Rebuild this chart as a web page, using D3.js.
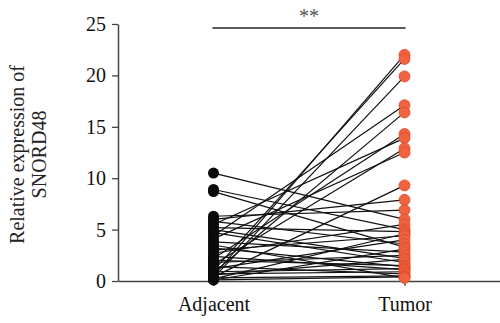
<!DOCTYPE html>
<html>
<head>
<meta charset="utf-8">
<script src="https://cdn.jsdelivr.net/npm/d3@7"></script>
<style>
  body { margin: 0; background: #fff; }
  svg text { font-family: "Liberation Serif", "DejaVu Serif", serif; }
</style>
</head>
<body>
<div id="chart"></div>
<script>
// paired samples, same index = same patient
const groups = ["Adjacent", "Tumor"];
const adjacent = [0.5, 1.0, 0.3, 4.4, 0.8, 2.2, 5.5, 1.6, 4.1, 0.4, 6.0, 6.3, 10.5, 2.7, 8.9, 5.2, 0.2, 3.0,
  1.2, 5.8, 8.7, 0.1, 3.8, 1.8, 5.0, 0.6, 4.7, 2.0, 3.2, 0.9, 2.4, 0.7, 1.4, 0.3, 0.1, 3.5];
const tumor = [22.0, 21.6, 19.9, 17.1, 16.4, 14.3, 13.9, 12.9, 12.5, 9.3, 7.9, 6.9, 6.0, 5.5, 5.0, 4.8, 4.6, 4.4,
  4.0, 3.6, 3.3, 3.1, 2.8, 2.5, 2.2, 2.1, 1.8, 1.5, 1.4, 1.2, 1.1, 0.9, 0.7, 0.5, 0.4, 0.3];
const yTicks = [0, 5, 10, 15, 20, 25];
const sigLabel = "**";

const width = 500, height = 323;
const margin = { top: 24, right: 0, bottom: 42, left: 118 };
const fontSize = "20px";

const svg = d3.select("#chart")
  .append("svg")
  .attr("width", width)
  .attr("height", height);

const x = d3.scalePoint()
  .domain(groups)
  .range([margin.left, width - margin.right])
  .padding(0.5);

const y = d3.scaleLinear()
  .domain([0, 25])
  .range([height - margin.bottom, margin.top]);

const axisColor = "#444";

// y axis
const yAxis = svg.append("g")
  .attr("transform", `translate(${margin.left},0)`)
  .call(d3.axisLeft(y).tickValues(yTicks).tickSize(6).tickSizeOuter(0).tickPadding(6));
yAxis.selectAll("text").style("font-size", fontSize).attr("fill", "#111");

// x axis
const xAxis = svg.append("g")
  .attr("transform", `translate(0,${y(0)})`)
  .call(d3.axisBottom(x).tickSize(5).tickSizeOuter(0).tickPadding(11));
xAxis.selectAll("text").style("font-size", fontSize).attr("fill", "#111");

[yAxis, xAxis].forEach(g => {
  g.select(".domain").attr("stroke", axisColor).attr("stroke-width", 1.5);
  g.selectAll(".tick line").attr("stroke", axisColor).attr("stroke-width", 1.3);
});

// y title
svg.append("text")
  .attr("transform", `translate(24,${(y(0) + y(25)) / 2 + 2}) rotate(-90)`)
  .attr("text-anchor", "middle")
  .style("font-size", fontSize)
  .attr("fill", "#222")
  .selectAll("tspan")
  .data(["Relative expression of", "SNORD48"])
  .join("tspan")
  .attr("x", 0)
  .attr("dy", (d, i) => i === 0 ? 0 : "1.1em")
  .text(d => d);

// connecting lines
const pairs = adjacent.map((a, i) => ({ a, t: tumor[i] }));
svg.append("g")
  .selectAll("line")
  .data(pairs)
  .join("line")
  .attr("x1", x("Adjacent"))
  .attr("y1", d => y(d.a))
  .attr("x2", x("Tumor"))
  .attr("y2", d => y(d.t))
  .attr("stroke", "#111")
  .attr("stroke-width", 1.2);

// points
svg.append("g")
  .selectAll("circle")
  .data(adjacent)
  .join("circle")
  .attr("cx", x("Adjacent"))
  .attr("cy", d => y(d))
  .attr("r", 5.5)
  .attr("fill", "#0a0a0a");

svg.append("g")
  .selectAll("circle")
  .data(tumor)
  .join("circle")
  .attr("cx", x("Tumor"))
  .attr("cy", d => y(d))
  .attr("r", 5.5)
  .attr("fill", "#ef6440")
  .attr("stroke", "#e0482a")
  .attr("stroke-width", 0.8);

// significance bar
const sigY = 28;
svg.append("line")
  .attr("x1", x("Adjacent") - 1)
  .attr("x2", x("Tumor") + 1)
  .attr("y1", sigY)
  .attr("y2", sigY)
  .attr("stroke", "#222")
  .attr("stroke-width", 1.3);

svg.append("text")
  .attr("x", (x("Adjacent") + x("Tumor")) / 2)
  .attr("y", sigY - 5)
  .attr("text-anchor", "middle")
  .style("font-size", fontSize)
  .attr("fill", "#555")
  .text(sigLabel);
</script>
</body>
</html>
